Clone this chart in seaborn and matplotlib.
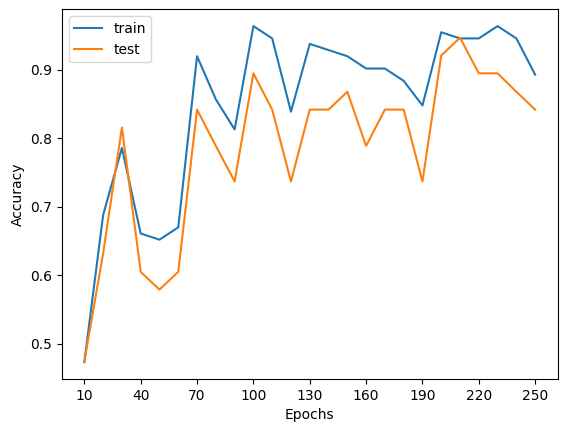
import matplotlib
matplotlib.use("Agg")
import matplotlib.pyplot as plt
import seaborn as sns
import numpy as np

# Accuracy pro Epoche
epochs = list(range(10, 260, 10))

train_acc = [0.473, 0.688, 0.786, 0.661, 0.652, 0.670, 0.920, 0.857, 0.813, 0.964,
             0.946, 0.839, 0.938, 0.929, 0.920, 0.902, 0.902, 0.884, 0.848, 0.955,
             0.946, 0.946, 0.964, 0.946, 0.893]

test_acc = [0.474, 0.632, 0.816, 0.605, 0.579, 0.605, 0.842, 0.789, 0.737, 0.895,
            0.842, 0.737, 0.842, 0.842, 0.868, 0.789, 0.842, 0.842, 0.737, 0.921,
            0.947, 0.895, 0.895, 0.868, 0.842]

xticks = list(range(10, 260, 30))

fig, ax = plt.subplots(figsize=(5.67, 4.32), dpi=100)
fig.subplots_adjust(left=0.109, right=0.9836, top=0.9785, bottom=0.1227)

sns.lineplot(x=epochs, y=train_acc, ax=ax, label="train", color="#1f77b4")
sns.lineplot(x=epochs, y=test_acc, ax=ax, label="test", color="#ff7f0e")

ax.set_xticks(xticks)
ax.set_xlabel("Epochs")
ax.set_ylabel("Accuracy")
ax.legend(loc="upper left")

plt.savefig("out.png", dpi=100)
plt.close()
